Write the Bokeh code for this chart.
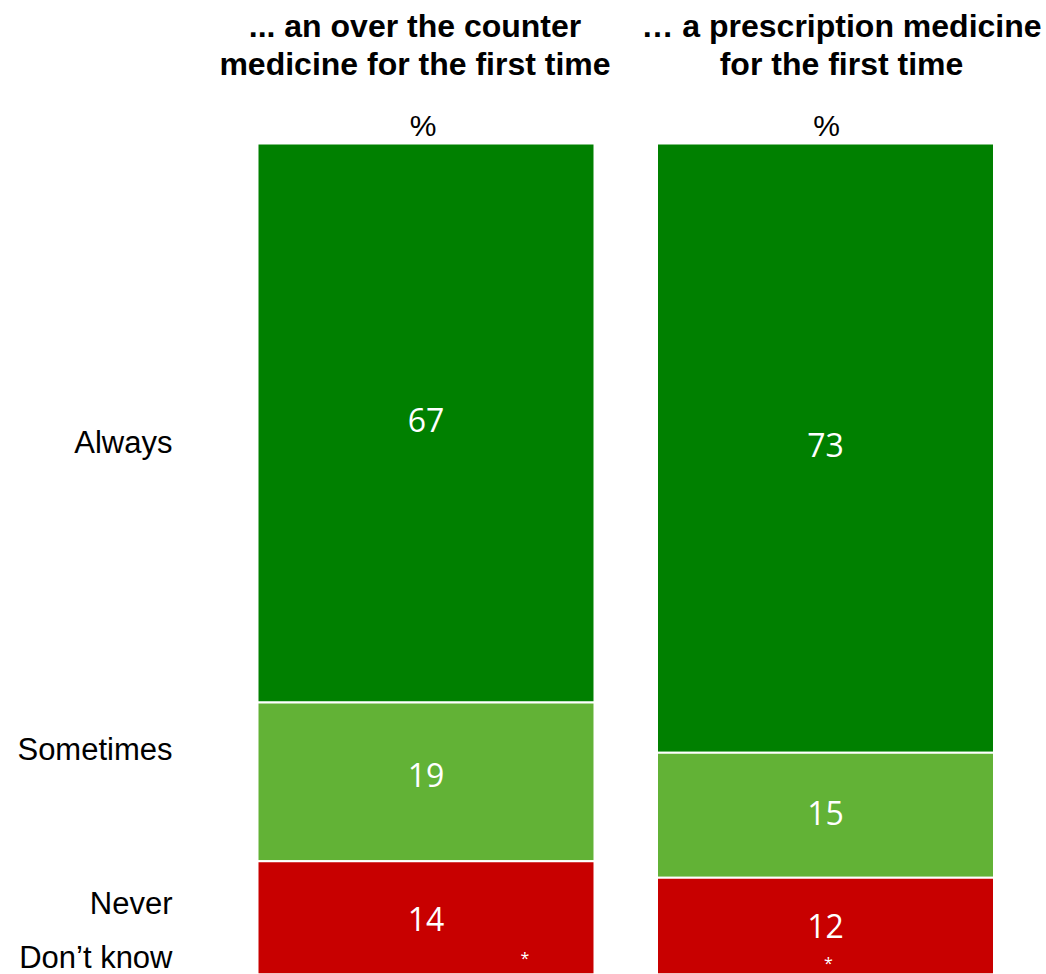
import numpy as np
from bokeh.plotting import figure
from bokeh.models import Range1d, ColumnDataSource
from bokeh.core.properties import value
from bokeh.embed import file_html
from bokeh.resources import INLINE

# ---- data ----
columns = ["... an over the counter\nmedicine for the first time",
           "\u2026 a prescription medicine\nfor the first time"]
categories = ["Always", "Sometimes", "Never", "Don\u2019t know"]
always = [67, 73]
sometimes = [19, 15]
never = [14, 12]
dont_know = [0, 0]
dont_know_label = ["*", "*"]
colors = ["#008000", "#62B236", "#C80000", "#C80000"]

# ---- layout ----
W, H = 1046, 974
px_per_x = 399.5
x0 = 1 - 425.5 / px_per_x
x1 = x0 + W / px_per_x
zero_px, hundred_px = 977.5, 143.0
px_per_y = (zero_px - hundred_px) / 100
y_end = 100 + hundred_px / px_per_y
y_start = (zero_px - H) / px_per_y
bar_w = 337 / px_per_x


def ypx(v):
    return (zero_px - v) / px_per_y


p = figure(width=W, height=H, x_range=Range1d(x0, x1), y_range=Range1d(y_start, y_end),
           output_backend="svg", toolbar_location=None, min_border=0)
p.axis.visible = False
p.grid.visible = False
p.outline_line_color = None
p.background_fill_color = "white"

xs = np.array([1.0, 2.0])
series = [np.array(always, float), np.array(sometimes, float),
          np.array(never, float), np.array(dont_know, float)]
# stacked from top (Always at top) down to bottom
tops = 100 - np.cumsum([np.zeros(2)] + series[:-1], axis=0)
bottoms = tops - np.array(series)

for i, s in enumerate(series):
    src = ColumnDataSource(dict(x=xs, top=tops[i], bottom=bottoms[i]))
    p.vbar(x="x", top="top", bottom="bottom", width=bar_w, source=src,
           fill_color=colors[i], line_color="white", line_width=2)

# value labels
label_shift = [[-3, -3], [-7, -2], [-1, -2]]
for i, s in enumerate(series[:3]):
    mids = (tops[i] + bottoms[i]) / 2
    p.text(x=xs, y=mids, text=[str(int(v)) for v in s], text_color="white",
           text_font=value("Open Sans"), text_font_size="32px",
           text_align="center", text_baseline="middle", y_offset=label_shift[i])

# "*" labels for don't know
p.text(x=xs, y=[ypx(957), ypx(962)], text=dont_know_label, text_color="white",
       text_font=value("Open Sans"), text_font_size="16px",
       text_align="center", text_baseline="middle", x_offset=[99, 3])

# "%" labels
p.text(x=xs, y=[ypx(125)] * 2, text=["%", "%"], text_color="black",
       text_font=value("Liberation Sans"), text_font_size="30px",
       text_align="center", text_baseline="middle", x_offset=[-3, 1])

# column titles
title_lines = [c.split("\n") for c in columns]
for j, lines in enumerate(title_lines):
    offs = [-11, 16][j]
    for k, line in enumerate(lines):
        yp = [25, 63][k]
        p.text(x=[xs[j]], y=[ypx(yp)], text=[line], text_color="black",
               text_font=value("Liberation Sans"), text_font_style="bold",
               text_font_size="32px", text_align="center", text_baseline="middle",
               x_offset=offs)

# category labels
cat_px = [442, 749, 903]
label_x = 1 - 335 / px_per_x / 2 - 86 / px_per_x
p.text(x=[label_x] * 3, y=[ypx(v) for v in cat_px], text=categories[:3],
       text_color="black", text_font=value("Liberation Sans"), text_font_size="31px",
       text_align="right", text_baseline="middle")
# last category sits at the very bottom edge
p.text(x=[label_x], y=[ypx(H)], text=categories[3:],
       text_color="black", text_font=value("Liberation Sans"), text_font_size="31px",
       text_align="right", text_baseline="bottom")

open("out.html", "w").write(file_html(p, INLINE))
